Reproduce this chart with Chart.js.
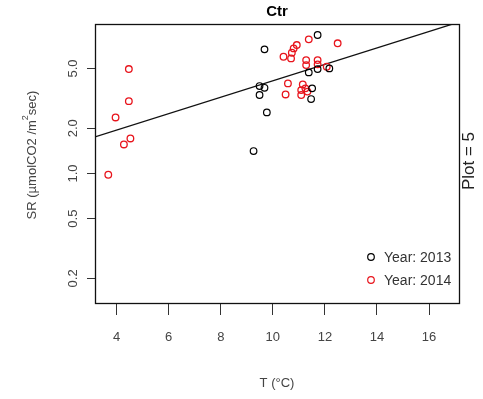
<!DOCTYPE html>
<html>
<head>
<meta charset="utf-8">
<script src="https://cdn.jsdelivr.net/npm/chart.js@4/dist/chart.umd.min.js"></script>
<style>
  html, body { margin: 0; padding: 0; background: #fff; }
  #wrap { width: 483px; height: 399px; }
</style>
</head>
<body>
<div id="wrap"><canvas id="myChart" width="483" height="399"></canvas></div>
<script>
// soil respiration vs temperature, plot 5 (Ctr)
var t2013  = [9.68, 11.72, 9.49, 9.68, 9.49, 9.77, 11.38, 11.72, 12.17, 11.51, 11.47, 9.26];
var sr2013 = [6.71, 8.36, 3.82, 3.72, 3.33, 2.55, 4.71, 4.96, 5.01, 3.69, 3.13, 1.41];

var t2014  = [11.38, 12.49, 10.92, 10.80, 10.73, 10.41, 10.70, 11.28, 11.72, 11.28, 11.72, 12.07,
              10.58, 11.15, 10.49, 11.09, 11.25, 11.09, 11.33,
              4.47, 4.47, 3.96, 4.53, 4.28, 3.68];
var sr2014 = [7.82, 7.36, 7.17, 6.81, 6.37, 5.99, 5.84, 5.69, 5.69, 5.27, 5.33, 5.14,
              3.98, 3.92, 3.36, 3.59, 3.69, 3.33, 3.51,
              4.96, 3.03, 2.36, 1.71, 1.56, 0.98];

// fitted line (log scale), end points
var fitT  = [3.17, 17.15];
var fitSR = [1.75, 10.2];

var xTicks = [4, 6, 8, 10, 12, 14, 16];
var yTicks = [0.2, 0.5, 1.0, 2.0, 5.0];

function pts(xs, ys) {
  return xs.map(function (x, i) { return { x: x, y: ys[i] }; });
}

var font = '"Liberation Sans", Arial, sans-serif';

var decor = {
  id: 'decor',
  afterDraw: function (chart) {
    var c = chart.ctx, a = chart.chartArea;
    var xs = chart.scales.x, ys = chart.scales.y;
    c.save();
    // box
    c.strokeStyle = '#111';
    c.lineWidth = 1.3;
    c.strokeRect(a.left + 0.5, a.top + 0.5, a.right - a.left, a.bottom - a.top);

    // title
    c.fillStyle = '#000';
    c.font = 'bold 15px ' + font;
    c.textAlign = 'center';
    c.textBaseline = 'middle';
    c.fillText('Ctr', (a.left + a.right) / 2, 12);

    // x tick labels + title
    c.fillStyle = '#444';
    c.font = '13px ' + font;
    xTicks.forEach(function (v) {
      c.fillText(String(v), xs.getPixelForValue(v), 337);
    });
    c.fillText('T (°C)', (a.left + a.right) / 2, 383);

    // y tick labels, rotated
    yTicks.forEach(function (v) {
      c.save();
      c.translate(73, ys.getPixelForValue(v));
      c.rotate(-Math.PI / 2);
      c.fillText(v.toFixed(1), 0, 0);
      c.restore();
    });

    // y axis title
    c.save();
    c.translate(32, 155);
    c.rotate(-Math.PI / 2);
    c.textAlign = 'left';
    var s1 = 'SR (µmolCO2 /m', s2 = '2', s3 = 'sec)';
    c.font = '13px ' + font;
    var w1 = c.measureText(s1).width;
    var w3 = c.measureText(s3).width;
    c.font = '9px ' + font;
    var w2 = c.measureText(s2).width;
    var x0 = -(w1 + w2 + w3) / 2;
    c.font = '13px ' + font;
    c.fillText(s1, x0, 0);
    c.font = '9px ' + font;
    c.fillText(s2, x0 + w1, -6);
    c.font = '13px ' + font;
    c.fillText(s3, x0 + w1 + w2, 0);
    c.restore();

    // plot label on the right
    c.save();
    c.translate(469, 161);
    c.rotate(-Math.PI / 2);
    c.textAlign = 'center';
    c.fillStyle = '#222';
    c.font = '17px ' + font;
    c.fillText('Plot = 5', 0, 0);
    c.restore();

    // legend
    var lg = [['Year: 2013', '#000'], ['Year: 2014', '#e8141c']];
    lg.forEach(function (item, i) {
      var y = 257 + i * 23;
      c.beginPath();
      c.strokeStyle = item[1];
      c.lineWidth = 1.2;
      c.arc(371, y, 3.3, 0, Math.PI * 2);
      c.stroke();
      c.fillStyle = '#333';
      c.textAlign = 'left';
      c.font = '14px ' + font;
      c.fillText(item[0], 384, y + 1);
    });
    c.restore();
  }
};

var ctx = document.getElementById('myChart').getContext('2d');
var myChart = new Chart(ctx, {
  type: 'scatter',
  data: {
    datasets: [{
      label: 'Year: 2013',
      data: pts(t2013, sr2013),
      borderColor: '#000',
      backgroundColor: 'transparent',
      borderWidth: 1.2,
      pointRadius: 3.3
    },
    {
      label: 'Year: 2014',
      data: pts(t2014, sr2014),
      borderColor: '#e8141c',
      backgroundColor: 'transparent',
      borderWidth: 1.3,
      pointRadius: 3.3
    },
    {
      label: 'fit',
      type: 'line',
      data: pts(fitT, fitSR),
      borderColor: '#111',
      borderWidth: 1.3,
      pointRadius: 0,
      fill: false
    }]
  },
  options: {
    responsive: false,
    animation: false,
    events: [],
    layout: { padding: { top: 24, right: 24, left: 0, bottom: 0 } },
    plugins: {
      legend: { display: false },
      tooltip: { enabled: false },
      title: { display: false }
    },
    scales: {
      x: {
        type: 'linear',
        min: 3.17,
        max: 17.15,
        afterBuildTicks: function (s) { s.ticks = xTicks.map(function (v) { return { value: v }; }); },
        afterFit: function (s) { s.height = 96; },
        ticks: { display: false },
        border: { display: false },
        grid: { drawOnChartArea: false, tickLength: 12, color: '#333', lineWidth: 1 }
      },
      y: {
        type: 'logarithmic',
        min: 0.137,
        max: 9.9,
        afterBuildTicks: function (s) { s.ticks = yTicks.map(function (v) { return { value: v }; }); },
        afterFit: function (s) { s.width = 95; },
        ticks: { display: false },
        border: { display: false },
        grid: { drawOnChartArea: false, tickLength: 8, color: '#333', lineWidth: 1 }
      }
    }
  },
  plugins: [decor]
});
</script>
</body>
</html>
